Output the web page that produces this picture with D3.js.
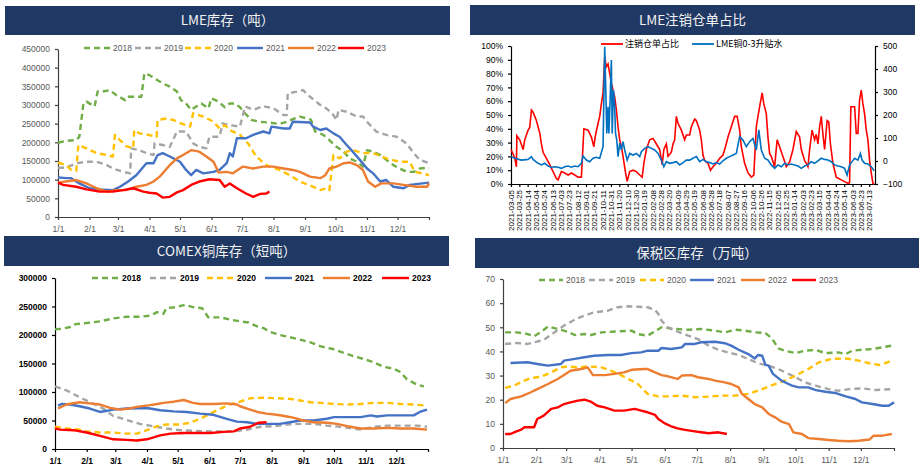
<!DOCTYPE html>
<html><head><meta charset="utf-8">
<script src="https://cdn.jsdelivr.net/npm/d3@7"></script>
<style>body{margin:0;background:#fff}svg{display:block}</style>
</head><body><svg id="c" width="924" height="469"></svg>
<script>
// ---------- shared categories ----------
const monthDays = [0,31,59,90,120,151,181,212,243,273,304,334];
const monthLabels = ["1/1","2/1","3/1","4/1","5/1","6/1","7/1","8/1","9/1","10/1","11/1","12/1"];
const seasonYears = ["2018","2019","2020","2021","2022","2023"];
const seasonColors = ["#70AD47","#A5A5A5","#FFC000","#4472C4","#ED7D31","#FF0000"];

// ---------- LME inventory (t), [day of year, value] ----------
const lme2018 = [[0,199000],[8,204000],[18,206000],[21,215000],[25,304000],[28,309000],[36,296000],[39,336000],[44,336000],[51,340000],[57,327000],[66,313000],[69,322000],[77,322000],[82,322000],[85,385000],[90,380000],[95,371000],[103,358000],[110,349000],[117,336000],[121,313000],[126,304000],[131,287000],[136,296000],[141,304000],[148,291000],[151,318000],[158,309000],[164,294000],[169,304000],[174,304000],[179,294000],[184,278000],[190,260000],[199,255000],[208,253000],[218,249000],[225,255000],[231,262000],[238,269000],[245,264000],[249,260000],[253,229000],[261,220000],[267,206000],[274,188000],[281,175000],[287,157000],[294,148000],[300,135000],[304,179000],[310,175000],[317,166000],[323,153000],[330,139000],[336,130000],[343,121000],[350,121000],[356,130000],[365,132000]];
const lme2019 = [[0,132000],[8,132000],[18,144000],[28,148000],[38,148000],[48,139000],[54,130000],[64,121000],[71,117000],[72,184000],[80,179000],[87,171000],[94,166000],[95,197000],[103,193000],[110,188000],[117,229000],[126,229000],[133,197000],[139,188000],[146,184000],[149,215000],[159,215000],[162,251000],[169,246000],[179,242000],[184,296000],[192,287000],[202,297000],[212,291000],[222,273000],[225,273000],[226,331000],[235,336000],[241,340000],[248,322000],[258,300000],[264,291000],[271,273000],[274,260000],[276,287000],[284,282000],[294,269000],[300,269000],[304,255000],[313,229000],[323,220000],[333,215000],[343,197000],[350,171000],[356,153000],[365,144000]];
const lme2020 = [[0,146000],[8,139000],[13,126000],[18,124000],[20,193000],[28,184000],[38,171000],[48,166000],[54,162000],[56,220000],[61,206000],[67,190000],[74,184000],[75,233000],[80,224000],[89,220000],[97,215000],[98,260000],[107,264000],[113,260000],[121,251000],[130,242000],[133,278000],[143,269000],[153,255000],[159,237000],[164,246000],[169,233000],[179,220000],[187,197000],[195,162000],[205,139000],[218,126000],[228,112000],[238,95000],[251,81000],[258,72000],[264,77000],[267,72000],[271,166000],[277,157000],[284,175000],[290,179000],[300,171000],[310,171000],[323,157000],[336,148000],[346,148000],[351,121000],[358,117000],[365,112000]];
const lme2021 = [[0,106000],[8,104000],[13,104000],[21,90000],[31,77000],[41,74000],[54,72000],[61,81000],[69,95000],[77,112000],[87,144000],[94,144000],[98,166000],[103,171000],[110,162000],[120,148000],[126,126000],[131,112000],[136,126000],[143,117000],[153,121000],[159,126000],[166,144000],[169,171000],[172,162000],[176,211000],[185,211000],[192,220000],[202,229000],[208,224000],[210,242000],[222,237000],[228,237000],[231,255000],[248,253000],[251,242000],[258,233000],[264,237000],[271,224000],[277,215000],[284,193000],[290,175000],[297,153000],[304,130000],[310,117000],[317,95000],[323,99000],[330,81000],[340,77000],[346,86000],[365,92000]];
const lme2022 = [[0,92000],[18,99000],[28,90000],[38,77000],[48,68000],[57,72000],[67,72000],[77,81000],[87,86000],[94,95000],[100,108000],[110,139000],[117,157000],[123,166000],[131,179000],[139,175000],[146,162000],[153,148000],[158,119000],[166,121000],[172,117000],[182,135000],[192,130000],[202,135000],[212,135000],[222,130000],[231,126000],[238,121000],[248,108000],[258,104000],[263,112000],[267,130000],[274,135000],[281,144000],[287,146000],[294,139000],[300,126000],[305,95000],[312,81000],[318,90000],[330,90000],[340,86000],[353,81000],[363,81000],[365,90000]];
const lme2023 = [[0,92000],[5,86000],[18,81000],[28,74000],[41,68000],[54,68000],[64,72000],[74,77000],[84,68000],[90,65000],[97,63000],[103,52000],[110,54000],[117,66000],[123,72000],[131,86000],[139,95000],[149,101000],[159,99000],[164,81000],[169,90000],[176,77000],[185,63000],[192,54000],[199,62000],[205,63000],[208,68000]];
const lmeTicks = [0,50000,100000,150000,200000,250000,300000,350000,400000,450000];

// ---------- COMEX inventory (short t) ----------
const cmx2018 = [[0,210000],[7,211000],[15,214000],[20,219000],[31,221000],[44,224000],[57,229000],[70,232000],[83,232000],[93,234000],[100,240000],[106,237000],[109,247000],[119,249000],[127,253000],[135,249000],[144,247000],[150,231000],[162,231000],[171,227000],[181,224000],[189,222000],[198,215000],[204,212000],[211,205000],[220,200000],[230,196000],[240,192000],[250,187000],[260,180000],[273,175000],[282,169000],[292,163000],[302,158000],[312,152000],[322,144000],[331,141000],[338,135000],[344,123000],[354,113000],[361,110000]];
const cmx2019 = [[0,110000],[11,103000],[24,91000],[38,79000],[47,71000],[57,58000],[70,51000],[83,44000],[96,40000],[109,36000],[122,33000],[135,32000],[149,31000],[162,31000],[175,31000],[188,34000],[201,39000],[214,40000],[227,43000],[240,44000],[253,44000],[266,41000],[279,39000],[292,36000],[299,34000],[312,39000],[325,41000],[338,41000],[354,41000],[364,39000]];
const cmx2020 = [[0,39000],[11,36000],[24,34000],[31,31000],[44,29000],[57,29000],[70,27000],[80,27000],[90,33000],[100,40000],[109,43000],[122,43000],[132,46000],[142,53000],[152,62000],[162,71000],[171,78000],[181,83000],[191,89000],[204,90000],[217,89000],[230,88000],[240,85000],[250,82000],[260,81000],[273,79000],[286,78000],[299,79000],[312,81000],[325,81000],[338,79000],[351,78000],[364,76000]];
const cmx2021 = [[3,76000],[7,79000],[15,78000],[24,75000],[34,71000],[44,65000],[51,67000],[57,69000],[70,71000],[90,72000],[103,68000],[116,66000],[129,65000],[142,62000],[155,60000],[168,53000],[178,48000],[188,47000],[198,44000],[207,44000],[220,44000],[230,47000],[240,50000],[253,50000],[266,53000],[273,56000],[286,56000],[299,56000],[309,59000],[315,57000],[325,59000],[338,59000],[351,59000],[357,65000],[364,69000]];
const cmx2022 = [[3,71000],[11,78000],[24,82000],[34,80000],[44,78000],[54,72000],[64,69000],[73,71000],[80,74000],[93,77000],[100,79000],[106,81000],[116,83000],[126,86000],[135,81000],[142,79000],[155,79000],[168,80000],[178,78000],[181,75000],[188,71000],[198,65000],[207,62000],[217,60000],[227,57000],[233,55000],[243,50000],[253,47000],[266,46000],[276,44000],[286,40000],[299,36000],[312,36000],[325,37000],[338,36000],[351,36000],[364,34000]];
const cmx2023 = [[0,36000],[5,34000],[18,33000],[31,29000],[44,23000],[57,17000],[70,16000],[80,15000],[90,17000],[103,24000],[113,27000],[126,28000],[139,28000],[152,28000],[165,30000],[175,31000],[181,36000],[191,39000],[199,46000],[207,47000]];
const cmxTicks = [0,50000,100000,150000,200000,250000,300000];

// ---------- Bonded-zone inventory (10k t) ----------
const bnd2018 = [[2,47.9],[13,47.9],[23,47.2],[29,46.3],[35,47.9],[42,50.3],[51,49.3],[60,48.2],[67,46.8],[76,47.2],[82,46.8],[92,47.9],[107,48.3],[120,48.6],[126,47.2],[135,46.5],[148,50.0],[160,49.3],[173,49.0],[185,49.3],[198,48.6],[207,47.9],[217,49.0],[226,48.6],[235,47.9],[245,47.6],[251,45.4],[257,41.3],[263,40.3],[273,39.3],[282,40.3],[292,40.6],[301,39.3],[313,39.6],[320,38.9],[326,40.3],[335,40.7],[345,41.0],[354,41.7],[363,42.4]];
const bnd2019 = [[2,43.1],[13,43.5],[23,43.1],[29,43.8],[38,44.7],[48,47.9],[57,50.7],[67,53.2],[76,54.8],[85,56.2],[98,56.9],[107,58.3],[117,58.7],[126,58.5],[135,58.3],[142,57.2],[145,55.5],[148,52.7],[154,50.0],[163,48.2],[173,46.5],[182,45.1],[192,42.4],[201,40.7],[210,39.6],[220,38.5],[229,36.9],[238,35.1],[248,34.1],[257,32.7],[270,30.0],[282,27.2],[292,25.8],[304,24.4],[313,23.7],[323,24.4],[335,24.7],[348,24.0],[363,24.4]];
const bnd2020 = [[2,24.9],[10,25.8],[20,27.9],[26,29.0],[35,29.5],[45,31.3],[54,33.4],[60,33.8],[70,33.4],[79,33.8],[92,33.4],[101,32.0],[110,30.2],[120,27.9],[126,26.5],[135,22.4],[145,21.4],[154,21.4],[167,21.7],[179,21.0],[192,21.3],[204,21.7],[217,21.7],[229,22.4],[242,24.4],[254,26.5],[263,27.9],[273,30.0],[285,32.7],[295,35.5],[307,36.9],[320,37.1],[332,36.2],[342,35.1],[351,34.4],[357,35.2],[363,36.2]];
const bnd2021 = [[7,35.2],[23,35.5],[32,34.8],[42,34.1],[54,34.8],[57,36.2],[67,36.9],[76,37.6],[85,38.2],[98,38.5],[110,38.5],[120,39.3],[129,39.6],[135,40.3],[145,40.3],[148,41.4],[157,41.0],[167,41.7],[170,43.1],[179,43.1],[185,43.8],[198,44.0],[207,43.4],[213,42.4],[220,40.7],[229,38.9],[235,37.1],[238,38.5],[242,38.2],[245,34.4],[248,34.1],[252,30.7],[260,27.9],[270,25.8],[276,25.1],[285,25.1],[292,24.0],[301,23.3],[310,22.8],[320,21.4],[329,20.3],[335,18.9],[345,18.2],[354,17.5],[360,17.5],[365,18.9]];
const bnd2022 = [[2,18.6],[7,20.3],[17,21.4],[26,23.1],[32,24.4],[42,26.5],[51,28.6],[57,30.2],[63,32.0],[73,32.7],[79,33.4],[84,30.2],[95,30.2],[104,30.7],[113,31.3],[120,32.4],[132,32.7],[135,32.7],[142,31.3],[148,30.2],[154,29.7],[163,28.6],[167,30.0],[176,30.2],[182,29.3],[192,28.6],[198,27.9],[207,27.2],[213,26.5],[220,25.1],[223,22.4],[229,20.3],[235,18.2],[242,16.8],[248,14.1],[254,12.7],[260,10.9],[267,9.9],[271,6.5],[279,5.8],[285,4.1],[295,3.7],[304,3.3],[313,3.0],[323,2.8],[332,3.0],[342,3.5],[346,5.1],[354,5.1],[363,5.8]];
const bnd2023 = [[2,5.8],[7,5.8],[12,6.8],[17,7.6],[20,8.6],[29,8.6],[32,12.0],[38,13.4],[45,16.2],[51,16.8],[57,18.2],[63,18.9],[70,19.6],[76,20.0],[82,19.2],[88,17.5],[95,16.8],[104,15.5],[113,15.5],[123,16.2],[129,15.5],[135,14.8],[142,13.7],[145,12.0],[151,10.2],[157,9.0],[163,8.1],[170,7.5],[179,6.9],[185,6.5],[192,6.1],[201,6.5],[209,5.8]];
const bndTicks = [0,10,20,30,40,50,60,70];

// ---------- LME cancelled-warrant ratio & cash-3M spread ----------
const spreadStart = "2021-03-05";
const spreadEnd = "2023-07-27";
const ratioDays = [0,9,13,14,21,29,33,41,45,49,53,61,69,73,77,85,93,101,109,113,121,129,137,145,153,161,169,175,185,193,199,202,209,213,217,221,225,229,233,237,241,245,249,253,257,261,265,269,275,279,285,293,301,309,315,319,325,333,341,349,357,363,367,373,377,385,389,393,397,401,409,417,421,429,433,441,445,453,457,461,465,473,479,485,493,501,509,515,521,529,537,543,549,553,561,569,577,583,589,593,597,603,607,613,617,621,625,633,639,645,653,661,669,677,685,693,697,705,713,717,723,729,733,737,741,745,749,753,759,763,767,773,781,793,801,809,813,816,825,829,833,837,841,845,849,853,857,861,865,869,872];
const ratioValues = [0.25,0.19,0.125,0.35,0.32,0.25,0.32,0.39,0.41,0.536,0.52,0.46,0.37,0.29,0.23,0.186,0.14,0.09,0.04,0.03,0.09,0.08,0.065,0.08,0.065,0.05,0.05,0.40,0.39,0.34,0.27,0.34,0.44,0.49,0.58,0.66,0.92,0.85,0.87,0.80,0.73,0.68,0.63,0.54,0.415,0.32,0.27,0.20,0.08,0.02,0.09,0.10,0.09,0.065,0.05,0.15,0.25,0.32,0.33,0.29,0.25,0.14,0.25,0.29,0.20,0.23,0.29,0.32,0.49,0.44,0.39,0.32,0.355,0.355,0.415,0.47,0.46,0.39,0.32,0.21,0.17,0.15,0.10,0.125,0.15,0.186,0.21,0.27,0.34,0.415,0.49,0.49,0.39,0.27,0.15,0.08,0.05,0.065,0.415,0.49,0.56,0.66,0.58,0.51,0.34,0.22,0.20,0.125,0.32,0.27,0.20,0.125,0.16,0.25,0.38,0.34,0.25,0.17,0.125,0.25,0.39,0.32,0.36,0.29,0.415,0.49,0.36,0.25,0.46,0.45,0.29,0.15,0.05,0.03,0.017,0.005,0.01,0.56,0.56,0.367,0.367,0.61,0.68,0.58,0.51,0.39,0.32,0.17,0.08,0.005,0.0];
const spreadDays = [0,9,25,41,49,53,65,73,81,89,97,105,113,121,129,137,145,153,161,169,173,181,189,197,205,213,221,225,227,230,233,235,238,241,243,246,249,251,254,257,261,265,269,273,279,285,293,301,309,313,321,329,337,345,353,361,367,373,381,389,397,405,413,421,429,437,445,453,461,469,477,485,493,501,509,517,525,533,541,549,557,565,573,581,589,595,601,609,617,625,633,641,649,657,665,673,681,689,697,705,713,721,729,737,745,753,761,769,777,785,793,801,807,813,817,825,833,839,843,849,857,865,872];
const spreadValues = [19,12,4,7,19,7,-10,-17,-10,-22,-27,-25,-27,-32,-25,-22,-27,-22,-25,-10,22,4,-3,12,16,12,62,497,352,120,236,120,265,439,120,309,236,120,91,19,77,48,84,48,4,33,26,33,19,40,55,62,55,48,33,4,-25,-3,-10,-7,-3,-17,-7,4,4,12,19,-3,7,-3,-7,-13,-7,-13,1,12,19,26,33,106,91,62,84,98,48,135,48,12,4,-17,-32,-17,-25,-10,-17,-13,-17,-22,-32,-22,-17,-3,-10,1,12,7,4,-3,-17,-22,-25,-32,-61,-17,-7,12,4,33,4,-10,-13,-25,-42];
const pctTicks = [0,0.1,0.2,0.3,0.4,0.5,0.6,0.7,0.8,0.9,1.0];
const spreadTicks = [-100,0,100,200,300,400,500];

const svg = d3.select("#c");
const BANNER = "#203864";
const CJK = "'Noto Sans CJK SC','Noto Sans',sans-serif";
const LAT = "'Liberation Sans',Arial,sans-serif";

function banner(x0, x1, y0, y1, text) {
  svg.append("rect").attr("x", x0).attr("y", y0).attr("width", x1 - x0).attr("height", y1 - y0).attr("fill", BANNER);
  svg.append("text").attr("x", (x0 + x1) / 2).attr("y", (y0 + y1) / 2).attr("dy", "0.36em")
    .attr("text-anchor", "middle").attr("fill", "#F2F2F2").style("font-family", CJK)
    .style("font-size", "13.5px").text(text);
}

function seasonal(cfg) {
  banner(cfg.bx0, cfg.bx1, cfg.by0, cfg.by1, cfg.title);
  const x = d3.scaleLinear().domain([0, 365]).range([cfg.x0, cfg.x1]);
  const y = d3.scaleLinear().domain([0, cfg.ymax]).range([cfg.yb, cfg.yt]);
  const g = svg.append("g");
  const yAx = g.append("g").attr("transform", `translate(${cfg.x0},0)`)
    .call(d3.axisLeft(y).tickValues(cfg.ticks).tickSize(3).tickSizeOuter(0).tickPadding(5).tickFormat(d => d));
  const xAx = g.append("g").attr("transform", `translate(0,${cfg.yb})`)
    .call(d3.axisBottom(x).tickValues(monthDays.concat([365])).tickSize(3).tickSizeOuter(0).tickPadding(6)
      .tickFormat((d, i) => i < monthLabels.length ? monthLabels[i] : ""));
  [yAx, xAx].forEach(a => {
    a.selectAll("path,line").attr("stroke", cfg.axisColor).attr("stroke-width", 1.2);
    a.selectAll("text").attr("fill", cfg.labelColor).style("font-family", LAT)
      .style("font-size", cfg.fontSize).style("font-weight", cfg.bold ? "bold" : "normal");
  });
  const line = d3.line().x(d => x(d[0])).y(d => y(d[1]));
  cfg.series.forEach((s, i) => {
    g.append("path").datum(s).attr("d", line).attr("fill", "none")
      .attr("stroke", seasonColors[i]).attr("stroke-width", 2.4)
      .attr("stroke-linejoin", "round")
      .attr("stroke-dasharray", i < 3 ? "6,4" : null);
  });
  seasonYears.forEach((yr, i) => {
    const lx = cfg.legX[i];
    g.append("line").attr("x1", lx).attr("x2", lx + cfg.legW).attr("y1", cfg.legY).attr("y2", cfg.legY)
      .attr("stroke", seasonColors[i]).attr("stroke-width", 2.4).attr("stroke-dasharray", i < 3 ? "6,4" : null);
    g.append("text").attr("x", lx + cfg.legW + 3).attr("y", cfg.legY).attr("dy", "0.35em")
      .attr("fill", cfg.labelColor).style("font-family", LAT).style("font-size", cfg.fontSize)
      .style("font-weight", cfg.bold ? "bold" : "normal").text(yr);
  });
}

seasonal({
  title: "LME库存（吨）", bx0: 5, bx1: 450, by0: 6, by1: 35,
  x0: 58, x1: 429, yb: 217, yt: 49, ymax: 450000, ticks: lmeTicks,
  series: [lme2018, lme2019, lme2020, lme2021, lme2022, lme2023],
  axisColor: "#404040", labelColor: "#595959", fontSize: "8.5px", bold: false,
  legY: 48, legX: [84, 135, 185, 237, 288, 338], legW: 26
});
seasonal({
  title: "COMEX铜库存（短吨）", bx0: 4, bx1: 449, by0: 236, by1: 266,
  x0: 55, x1: 428, yb: 449, yt: 278, ymax: 300000, ticks: cmxTicks,
  series: [cmx2018, cmx2019, cmx2020, cmx2021, cmx2022, cmx2023],
  axisColor: "#000", labelColor: "#000", fontSize: "8.5px", bold: true,
  legY: 278, legX: [92, 150, 207, 265, 323, 382], legW: 27
});
seasonal({
  title: "保税区库存（万吨）", bx0: 475, bx1: 919, by0: 238, by1: 268,
  x0: 503, x1: 894, yb: 448, yt: 279, ymax: 70, ticks: bndTicks,
  series: [bnd2018, bnd2019, bnd2020, bnd2021, bnd2022, bnd2023],
  axisColor: "#404040", labelColor: "#595959", fontSize: "8.5px", bold: false,
  legY: 280, legX: [539, 589, 640, 690, 741, 792], legW: 24
});

// ---------- panel 2 ----------
(function () {
  banner(470, 915, 5, 35, "LME注销仓单占比");
  const parse = d3.timeParse("%Y-%m-%d");
  const t0 = parse(spreadStart), t1 = parse(spreadEnd);
  const x = d3.scaleTime().domain([t0, t1]).range([511, 875]);
  const yL = d3.scaleLinear().domain([0, 1]).range([184, 46]);
  const yR = d3.scaleLinear().domain([-100, 500]).range([184, 46]);
  const g = svg.append("g");
  const tickDates = d3.timeDay.every(1).range(t0, d3.timeDay.offset(t1, -10)).filter((d, i) => i % 20 === 0);
  const xa = g.append("g").attr("transform", "translate(0,184)")
    .call(d3.axisBottom(x).tickValues(tickDates).tickSize(3).tickSizeOuter(0).tickFormat(d3.timeFormat("%Y-%m-%d")));
  xa.selectAll("text").attr("x", 0).attr("y", 0).attr("dy", "0.33em")
    .attr("transform", "translate(0,6) rotate(-90)").attr("text-anchor", "end");
  const yla = g.append("g").attr("transform", "translate(511,0)")
    .call(d3.axisLeft(yL).tickValues(pctTicks).tickSize(3).tickSizeOuter(0).tickPadding(5).tickFormat(d3.format(".0%")));
  const yra = g.append("g").attr("transform", "translate(875,0)")
    .call(d3.axisRight(yR).tickValues(spreadTicks).tickSize(3).tickSizeOuter(0).tickPadding(5));
  [xa, yla, yra].forEach(a => {
    a.selectAll("path,line").attr("stroke", "#000").attr("stroke-width", 1.2);
    a.selectAll("text").attr("fill", "#000").style("font-family", LAT).style("font-size", "8.5px");
  });
  xa.selectAll("text").style("font-size", "8px");
  const ratio = ratioDays.map((d, i) => [d3.timeDay.offset(t0, d), ratioValues[i]]);
  const spread = spreadDays.map((d, i) => [d3.timeDay.offset(t0, d), spreadValues[i]]);
  g.append("path").datum(ratio).attr("fill", "none").attr("stroke", "#FF0000").attr("stroke-width", 1.6)
    .attr("d", d3.line().x(d => x(d[0])).y(d => yL(d[1])));
  g.append("path").datum(spread).attr("fill", "none").attr("stroke", "#0070C0").attr("stroke-width", 1.6)
    .attr("d", d3.line().x(d => x(d[0])).y(d => yR(d[1])));
  const leg = [["注销仓单占比", "#FF0000", 601], ["LME铜0-3升贴水", "#0070C0", 692]];
  leg.forEach(([t, c, lx]) => {
    g.append("line").attr("x1", lx).attr("x2", lx + 22).attr("y1", 44).attr("y2", 44).attr("stroke", c).attr("stroke-width", 1.8);
    g.append("text").attr("x", lx + 24).attr("y", 44).attr("dy", "0.35em").attr("fill", "#000")
      .style("font-family", CJK).style("font-size", "9px").text(t);
  });
})();
</script></body></html>
